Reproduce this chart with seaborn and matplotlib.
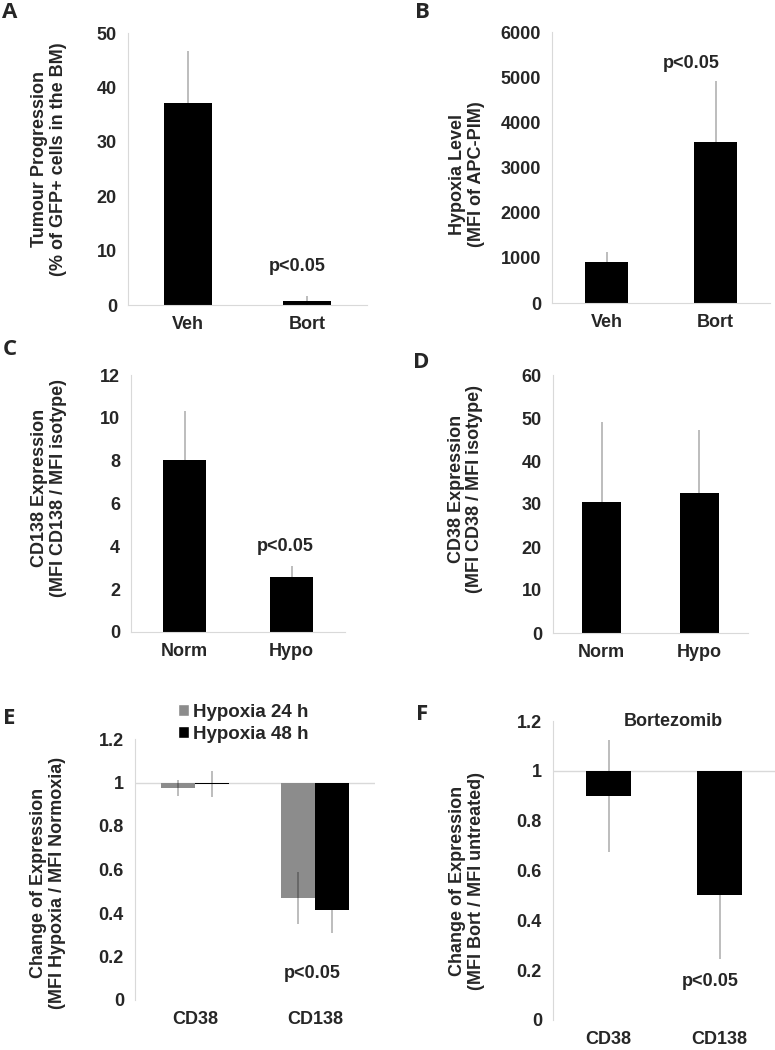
import matplotlib
matplotlib.use("Agg")
import matplotlib.pyplot as plt
from matplotlib.patches import Patch
import seaborn as sns
import pandas as pd

sns.set_style("white")
plt.rcParams['font.family'] = ['Liberation Sans', 'DejaVu Sans']
plt.rcParams['font.weight'] = 'bold'

W, H = 775, 1050

# Panel A - tumour progression
a_groups = ["Veh", "Bort"]
a_means = [37.2, 0.8]
a_err = [9.5, 0.8]

# Panel B - hypoxia level
b_groups = ["Veh", "Bort"]
b_means = [910, 3570]
b_err = [215, 1340]

# Panel C - CD138 expression
c_groups = ["Norm", "Hypo"]
c_means = [8.05, 2.55]
c_err = [2.25, 0.55]

# Panel D - CD38 expression
d_groups = ["Norm", "Hypo"]
d_means = [30.5, 32.5]
d_err = [18.5, 14.8]

# Panel E - change of expression under hypoxia
e_markers = ["CD38", "CD138"]
e_series = ["Hypoxia 24 h", "Hypoxia 48 h"]
e_24 = [0.975, 0.47]
e_24_err = [0.035, 0.12]
e_48 = [0.995, 0.415]
e_48_err = [0.06, 0.105]

# Panel F - change of expression under bortezomib
f_markers = ["CD38", "CD138"]
f_means = [0.90, 0.50]
f_err = [0.225, 0.257]

AXIS_GREY = "#d9d9d9"
BAR_GREY = "#8c8c8c"
FS = 13


def px_axes(fig, left, right, top, bottom):
    return fig.add_axes([left / W, 1 - bottom / H, (right - left) / W, (bottom - top) / H])


def style_axes(ax, ylim, yticks, yticklabels, ylabel, label_xy, base=0):
    ax.set_xlim(-0.5, 1.5)
    ax.set_ylim(*ylim)
    ax.set_yticks(yticks)
    ax.set_yticklabels(yticklabels, fontsize=FS, fontweight='bold')
    for s in ["top", "right"]:
        ax.spines[s].set_visible(False)
    ax.spines["left"].set_color(AXIS_GREY)
    ax.spines["bottom"].set_color(AXIS_GREY)
    ax.tick_params(axis='y', length=4, color=AXIS_GREY, pad=4)
    ax.set_xticks([-0.5, 0.5, 1.5], minor=True)
    ax.tick_params(axis='x', which='minor', length=4, color=AXIS_GREY)
    ax.tick_params(axis='x', which='major', length=0, pad=8, labelsize=FS)
    for t in ax.get_xticklabels():
        t.set_fontweight('bold')
    ax.set_xlabel("")
    ax.set_ylabel(ylabel, fontsize=FS, fontweight='bold', va='center',
                  ha='center', linespacing=1.1)
    ax.yaxis.set_label_coords(*label_xy)
    if base:
        ax.spines["bottom"].set_visible(False)
        ax.axhline(base, color=AXIS_GREY, lw=1, zorder=0)
        ax.tick_params(axis='x', which='minor', length=0)


def add_errors(ax, means, errs):
    xs = [p.get_x() + p.get_width() / 2 for p in ax.patches]
    ax.errorbar(xs, means, yerr=errs, fmt='none', ecolor='black', alpha=0.33,
                elinewidth=1.1, capsize=0, zorder=5)


def simple_bars(ax, groups, means, base=0, width=0.4):
    df = pd.DataFrame({"group": groups, "value": [m - base for m in means]})
    sns.barplot(data=df, x="group", y="value", color="black", width=width,
                errorbar=None, linewidth=0, saturation=1, ax=ax, bottom=base)


def p_text(ax, x, y):
    ax.text(x, y, "p<0.05", ha='center', va='center', fontsize=FS, fontweight='bold')


fig = plt.figure(figsize=(W / 100, H / 100), dpi=100)

# A
ax = px_axes(fig, 128, 367, 33, 305)
simple_bars(ax, a_groups, a_means)
add_errors(ax, a_means, a_err)
style_axes(ax, (0, 50), range(0, 51, 10), [str(v) for v in range(0, 51, 10)],
           "Tumour Progression\n(% of GFP+ cells in the BM)", (-0.33, 0.535))
p_text(ax, 0.92, 7.0)

# B
ax = px_axes(fig, 552, 770, 32, 303)
simple_bars(ax, b_groups, b_means)
add_errors(ax, b_means, b_err)
style_axes(ax, (0, 6000), range(0, 6001, 1000), [str(v) for v in range(0, 6001, 1000)],
           "Hypoxia Level\n(MFI of APC-PIM)", (-0.39, 0.476))
p_text(ax, 0.775, 5310)

# C
ax = px_axes(fig, 131, 345, 375, 632)
simple_bars(ax, c_groups, c_means)
add_errors(ax, c_means, c_err)
style_axes(ax, (0, 12), range(0, 13, 2), [str(v) for v in range(0, 13, 2)],
           "CD138 Expression\n(MFI CD138 / MFI isotype)", (-0.383, 0.56))
p_text(ax, 0.94, 3.97)

# D
ax = px_axes(fig, 553, 748, 375, 633)
simple_bars(ax, d_groups, d_means)
add_errors(ax, d_means, d_err)
style_axes(ax, (0, 60), range(0, 61, 10), [str(v) for v in range(0, 61, 10)],
           "CD38 Expression\n(MFI CD38 / MFI isotype)", (-0.45, 0.558))

# E
ax = px_axes(fig, 135, 375, 739, 1000)
e_df = pd.DataFrame({
    "marker": e_markers * 2,
    "series": [e_series[0]] * 2 + [e_series[1]] * 2,
    "value": [v - 1 for v in e_24 + e_48],
})
sns.barplot(data=e_df, x="marker", y="value", hue="series", hue_order=e_series,
            palette=[BAR_GREY, "black"], width=0.57, errorbar=None, linewidth=0,
            saturation=1, legend=False, ax=ax, bottom=1)
add_errors(ax, e_24 + e_48, e_24_err + e_48_err)
e_ticks = [0, 0.2, 0.4, 0.6, 0.8, 1.0, 1.2]
e_ticklabels = ["0", "0.2", "0.4", "0.6", "0.8", "1", "1.2"]
style_axes(ax, (0, 1.2), e_ticks, e_ticklabels,
           "Change of Expression\n(MFI Hypoxia / MFI Normoxia)", (-0.3625, 0.45), base=1)
p_text(ax, 0.98, 0.124)
handles = [Patch(facecolor=BAR_GREY, label=e_series[0]),
           Patch(facecolor="black", label=e_series[1])]
fig.legend(handles=handles, loc='upper left', bbox_to_anchor=(178 / W, 1 - 704 / H),
           frameon=False, handlelength=0.6, handleheight=0.6,
           handletextpad=0.2, labelspacing=0.25, borderpad=0, borderaxespad=0,
           prop={'weight': 'bold', 'size': 13.5})

# F
ax = px_axes(fig, 553, 775, 721, 1020)
simple_bars(ax, f_markers, f_means, base=1)
add_errors(ax, f_means, f_err)
style_axes(ax, (0, 1.2), e_ticks, e_ticklabels,
           "Change of Expression\n(MFI Bort / MFI untreated)", (-0.387, 0.465), base=1)
p_text(ax, 0.92, 0.153)
ax.text(0.58, 1.2, "Bortezomib", ha='center', va='center', fontsize=FS, fontweight='bold')

# panel letters
letters = ["A", "B", "C", "D", "E", "F"]
letter_pos = [(10, 12), (422, 12), (10, 350), (421, 362), (9, 718), (422, 714)]
for lab, (x, y) in zip(letters, letter_pos):
    fig.text(x / W, 1 - y / H, lab, ha='center', va='center', fontsize=16,
             fontweight='bold', family=['Open Sans', 'DejaVu Sans'])

fig.savefig("out.png", dpi=100)
